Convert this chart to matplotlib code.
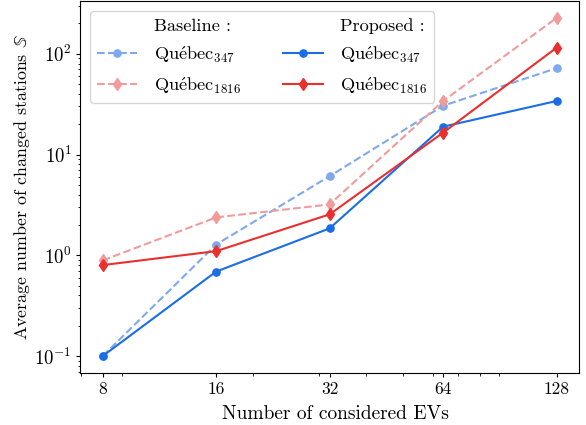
import matplotlib
matplotlib.use("Agg")
import matplotlib.pyplot as plt
from matplotlib.lines import Line2D
from matplotlib.ticker import FixedLocator, FixedFormatter, NullFormatter

plt.rcParams['font.family'] = ['cmr10', 'DejaVu Serif']
plt.rcParams['mathtext.fontset'] = 'cm'
plt.rcParams['axes.formatter.use_mathtext'] = True
plt.rcParams['axes.unicode_minus'] = False

evs = [8, 16, 32, 64, 128]
xtick_labels = ['8', '16', '32', '64', '128']
baseline_347 = [0.1, 1.28, 6.1, 30.5, 72]
baseline_1816 = [0.89, 2.38, 3.2, 34, 227]
proposed_347 = [0.1, 0.69, 1.85, 18.9, 34]
proposed_1816 = [0.80, 1.1, 2.55, 16.5, 115]

blue = '#1a6de6'
red = '#ea2f2f'
light_blue = '#7ea9ee'
light_red = '#f19c9c'

fig = plt.figure(figsize=(5.86, 4.25), dpi=100)
ax = fig.add_axes([0.1365, 0.1224, 0.852, 0.8752])

lab347 = r'$\mathrm{Qu\acute{e}bec}_{347}$'
lab1816 = r'$\mathrm{Qu\acute{e}bec}_{1816}$'

l_b347, = ax.plot(evs, baseline_347, linestyle='--', color=light_blue, marker='o', markersize=5.2, linewidth=1.5,
                  label=lab347)
l_b1816, = ax.plot(evs, baseline_1816, linestyle='--', color=light_red, marker='d', markersize=6.5, linewidth=1.5,
                   label=lab1816)
l_p347, = ax.plot(evs, proposed_347, linestyle='-', color=blue, marker='o', markersize=5.2, linewidth=1.5,
                  label=lab347)
l_p1816, = ax.plot(evs, proposed_1816, linestyle='-', color=red, marker='d', markersize=6.5, linewidth=1.5,
                   label=lab1816)

ax.set_xscale('log')
ax.set_yscale('log')
ax.xaxis.set_major_locator(FixedLocator(evs))
ax.xaxis.set_major_formatter(FixedFormatter(xtick_labels))
ax.xaxis.set_minor_formatter(NullFormatter())

ax.tick_params(axis='both', which='major', length=3, pad=3)
ax.tick_params(axis='x', which='major', labelsize=12.5)
ax.tick_params(axis='y', which='major', labelsize=13.5)
ax.tick_params(axis='both', which='minor', length=1.8)

ax.set_xlabel('Number of considered EVs', fontsize=14, labelpad=6, x=0.512)
ax.set_ylabel(r'Average number of changed stations $\mathbb{S}$', fontsize=12.9, labelpad=1.5)

hdr1 = Line2D([], [], linestyle='none', marker='none')
hdr2 = Line2D([], [], linestyle='none', marker='none')
handles = [hdr1, l_b347, l_b1816, hdr2, l_p347, l_p1816]
labels = ['Baseline :', lab347, lab1816, 'Proposed :', lab347, lab1816]
ax.legend(handles, labels, ncol=2, loc='upper left', fontsize=13.2, frameon=True,
          handlelength=2.15, handletextpad=0.95, columnspacing=2.3, labelspacing=0.54,
          borderaxespad=0.55)

fig.savefig('out.png', dpi=100)
